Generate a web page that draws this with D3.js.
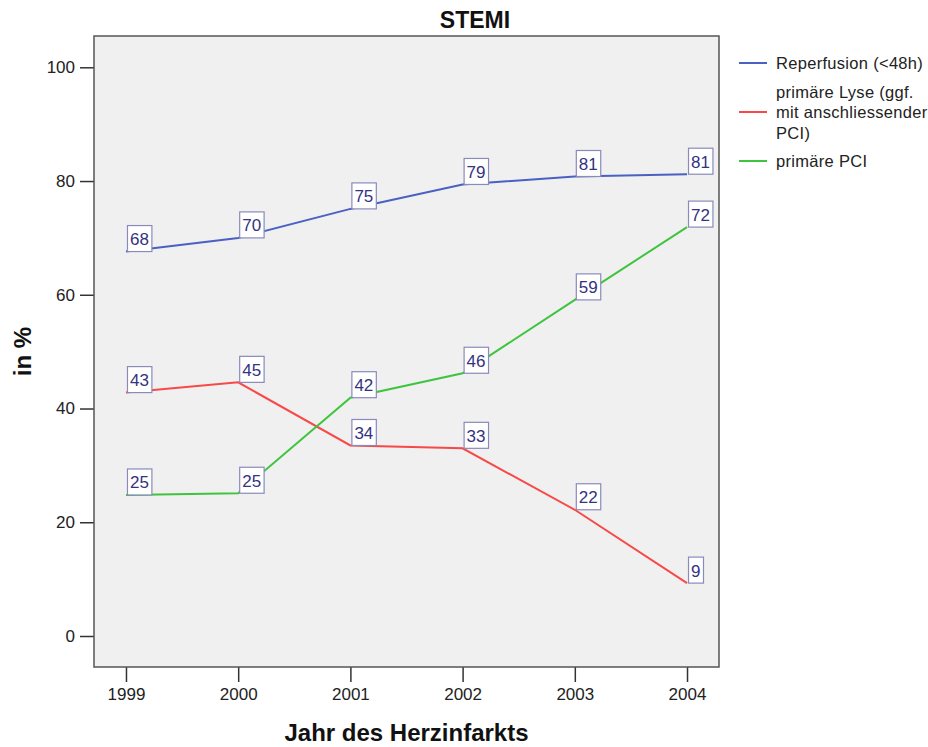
<!DOCTYPE html>
<html>
<head>
<meta charset="utf-8">
<script src="https://cdn.jsdelivr.net/npm/d3@7"></script>
<style>
  body { margin: 0; background: #fff; }
  text { font-family: "Liberation Sans", Arial, sans-serif; }
</style>
</head>
<body>
<div id="chart"></div>
<script>
// Data
const years = [1999, 2000, 2001, 2002, 2003, 2004];
const reperfusion = [67.6, 70.0, 75.1, 79.4, 80.8, 81.2];
const lyse = [42.8, 44.6, 33.5, 33.0, 22.2, 9.3];
const pci = [24.8, 25.1, 41.9, 46.2, 59.1, 71.9];
const yTicks = [0, 20, 40, 60, 80, 100];

const seriesNames = ["Reperfusion (<48h)", "primäre Lyse (ggf. mit anschliessender PCI)", "primäre PCI"];
const legendLines = [["Reperfusion (<48h)"], ["primäre Lyse (ggf.", "mit anschliessender", "PCI)"], ["primäre PCI"]];
const colors = ["#4a60c2", "#f84848", "#3ec43e"];

const series = [reperfusion, lyse, pci].map((vals, i) => ({
  name: seriesNames[i],
  color: colors[i],
  values: years.map((yr, j) => ({ year: yr, value: vals[j] }))
}));

const width = 928, height = 747;
const margin = { top: 36, left: 94 };
const plotW = 625, plotH = 631;

const svg = d3.select("#chart")
  .append("svg")
  .attr("width", width)
  .attr("height", height);

const g = svg.append("g")
  .attr("transform", `translate(${margin.left},${margin.top})`);

const x = d3.scalePoint()
  .domain(years)
  .range([0, plotW])
  .padding(0.285);

const y = d3.scaleLinear()
  .domain([0, 100])
  .range([600, 31.3]);

// plot background
g.append("rect")
  .attr("width", plotW)
  .attr("height", plotH)
  .attr("fill", "#f0f0f0");

// axes
const yAxis = g.append("g")
  .call(d3.axisLeft(y).tickValues(yTicks).tickSize(14).tickSizeOuter(0).tickPadding(5));
yAxis.select(".domain").remove();
yAxis.selectAll(".tick line").attr("stroke", "#333").attr("stroke-width", 1.5);
yAxis.selectAll(".tick text").attr("font-size", "17px").attr("fill", "#222")
  .style("font-family", "'Liberation Sans', Arial, sans-serif");

const xAxis = g.append("g")
  .attr("transform", `translate(0,${plotH})`)
  .call(d3.axisBottom(x).tickSize(15).tickSizeOuter(0).tickPadding(6));
xAxis.select(".domain").remove();
xAxis.selectAll(".tick line").attr("stroke", "#333").attr("stroke-width", 1.5);
xAxis.selectAll(".tick text").attr("font-size", "17px").attr("fill", "#222")
  .style("font-family", "'Liberation Sans', Arial, sans-serif");

// border
g.append("rect")
  .attr("width", plotW)
  .attr("height", plotH)
  .attr("fill", "none")
  .attr("stroke", "#555")
  .attr("stroke-width", 1.5);

// lines
const line = d3.line()
  .x(d => x(d.year))
  .y(d => y(d.value));

g.selectAll("path.series")
  .data(series)
  .join("path")
  .attr("class", "series")
  .attr("fill", "none")
  .attr("stroke", d => d.color)
  .attr("stroke-width", 2)
  .attr("d", d => line(d.values));

// value labels
const points = series.flatMap(s => s.values);
const labels = g.selectAll("g.vlabel")
  .data(points)
  .join("g")
  .attr("class", "vlabel")
  .attr("transform", d => `translate(${x(d.year) + 1.5},${y(d.value)})`);

const boxes = labels.append("rect")
  .attr("y", -26)
  .attr("height", 26)
  .attr("fill", "#fff")
  .attr("stroke", "#8a8abb")
  .attr("stroke-width", 1.2);

const texts = labels.append("text")
  .attr("x", 2.5)
  .attr("y", -6.5)
  .attr("font-size", "17px")
  .attr("fill", "#33337f")
  .text(d => Math.round(d.value));

texts.each(function (d, i) {
  const w = this.getComputedTextLength();
  d3.select(boxes.nodes()[i]).attr("width", w + 5.5);
});

// title
svg.append("text")
  .attr("x", 475)
  .attr("y", 28)
  .attr("text-anchor", "middle")
  .attr("font-size", "23px")
  .attr("font-weight", "bold")
  .attr("fill", "#111")
  .text("STEMI");

// axis titles
svg.append("text")
  .attr("transform", `translate(31,${margin.top + plotH / 2}) rotate(-90)`)
  .attr("text-anchor", "middle")
  .attr("font-size", "24px")
  .attr("font-weight", "bold")
  .attr("fill", "#111")
  .text("in %");

svg.append("text")
  .attr("x", margin.left + plotW / 2)
  .attr("y", 741)
  .attr("text-anchor", "middle")
  .attr("font-size", "24px")
  .attr("font-weight", "bold")
  .attr("fill", "#111")
  .text("Jahr des Herzinfarkts");

// legend
const legendY = [63, 112, 161];
const legend = svg.selectAll("g.legend")
  .data(series)
  .join("g")
  .attr("class", "legend")
  .attr("transform", (d, i) => `translate(739,${legendY[i]})`);

legend.append("line")
  .attr("x1", 0)
  .attr("x2", 28)
  .attr("stroke", d => d.color)
  .attr("stroke-width", 2);

legend.each(function (d, i) {
  const lines = legendLines[i];
  const t = d3.select(this).append("text")
    .attr("x", 37)
    .attr("font-size", "16.5px")
    .attr("letter-spacing", "0.3px")
    .attr("fill", "#222");
  t.selectAll("tspan")
    .data(lines)
    .join("tspan")
    .attr("x", 37)
    .attr("y", (l, k) => 6 + (k - (lines.length - 1) / 2) * 20.5)
    .text(l => l);
});
</script>
</body>
</html>
